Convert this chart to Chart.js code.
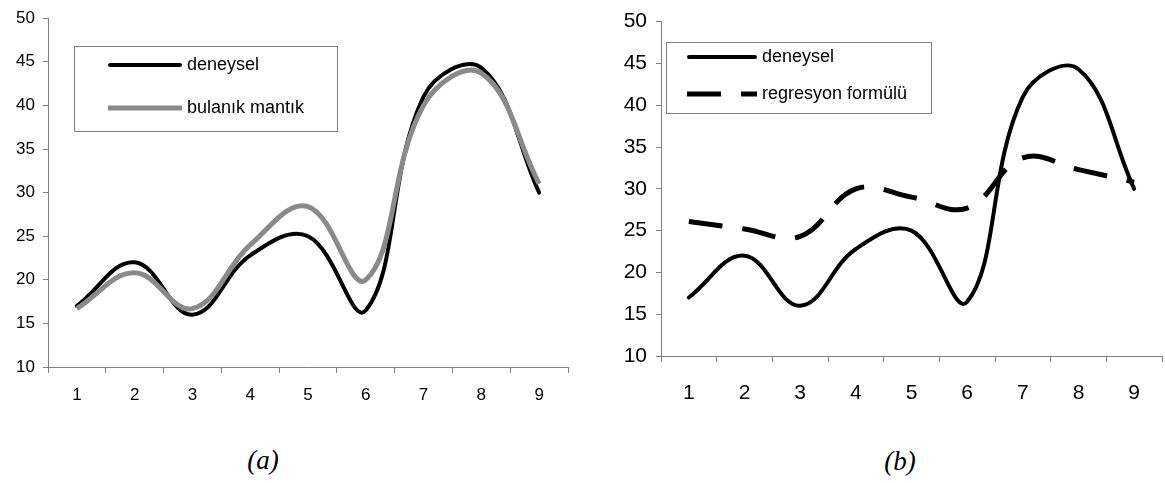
<!DOCTYPE html>
<html lang="tr">
<head>
<meta charset="UTF-8">
<title>deneysel / bulanık mantık / regresyon formülü</title>
<style>
    body { margin: 0; background: #fff; }
    #wrap { position: relative; width: 1165px; height: 483px; }
    .box { position: absolute; top: 0; height: 410px; }
    .cap { position: absolute; transform: translate(-50%, -50%);
           font: italic 27px "Liberation Serif", "Times New Roman", serif; color: #000; }
</style>
</head>
<body>
<div id="wrap">
    <div class="box" style="left:0; width:585px;"><canvas id="chartA"></canvas></div>
    <div class="box" style="left:585px; width:580px;"><canvas id="chartB"></canvas></div>
    <div class="cap" style="left:263px; top:460px;">(a)</div>
    <div class="cap" style="left:900px; top:461px;">(b)</div>
</div>

<script src="https://cdn.jsdelivr.net/npm/chart.js"></script>
<script>
    // values
    let categories = ['1', '2', '3', '4', '5', '6', '7', '8', '9'];
    let yMin = 10, yMax = 50, yStep = 5;

    let deneysel  = [17.0, 22.0, 16.0, 22.8, 25.0, 16.5, 41.0, 44.3, 30.0];
    let bulanik   = [16.7, 20.8, 16.7, 24.0, 28.4, 20.0, 40.0, 43.7, 31.0];
    let regresyon = [26.1, 25.2, 24.3, 30.0, 29.0, 27.7, 33.7, 32.3, 30.8];

    const axisColor = '#808080';
    const fontFam = '"Liberation Sans", Arial, sans-serif';

    // legend in a framed box inside the plot, like the original
    const boxLegend = {
        id: 'boxLegend',
        afterDraw(chart, args, o) {
            const ctx = chart.ctx;
            ctx.save();
            ctx.fillStyle = '#fff';
            ctx.fillRect(o.x, o.y, o.w, o.h);
            ctx.strokeStyle = axisColor;
            ctx.lineWidth = 1;
            ctx.strokeRect(o.x + 0.5, o.y + 0.5, o.w, o.h);
            chart.data.datasets.forEach((ds, i) => {
                const y = o.rows[i];
                const cap = ds.borderCapStyle || 'butt';
                const inset = cap === 'round' ? ds.borderWidth / 2 : 0;
                ctx.beginPath();
                ctx.setLineDash(ds.borderDash || []);
                ctx.lineCap = cap;
                ctx.strokeStyle = ds.borderColor;
                ctx.lineWidth = ds.borderWidth;
                ctx.moveTo(o.lineX0 + inset, y);
                ctx.lineTo(o.lineX1 - inset, y);
                ctx.stroke();
                ctx.setLineDash([]);
                ctx.fillStyle = '#000';
                ctx.font = o.font;
                ctx.textBaseline = 'middle';
                ctx.fillText(ds.label, o.textX, y);
            });
            ctx.restore();
        }
    };

    function makeScales(yWidth, xHeight, tickSize, yPad, xPad) {
        return {
            x: {
                type: 'category',
                offset: true,
                afterFit: s => { s.height = xHeight; },
                grid: { offset: true, drawOnChartArea: false, tickLength: 6, color: axisColor },
                border: { color: axisColor },
                ticks: { color: '#000', padding: xPad, maxRotation: 0, font: { family: fontFam, size: tickSize } }
            },
            y: {
                min: yMin,
                max: yMax,
                afterFit: s => { s.width = yWidth; },
                grid: { drawOnChartArea: false, tickLength: 5, color: axisColor },
                border: { color: axisColor },
                ticks: { stepSize: yStep, color: '#000', padding: yPad, font: { family: fontFam, size: tickSize } }
            }
        };
    }

    new Chart(document.getElementById('chartA'), {
        type: 'line',
        data: {
            labels: categories,
            datasets: [
                {
                    label: 'deneysel',
                    data: deneysel,
                    borderColor: '#000',
                    borderWidth: 4,
                    borderCapStyle: 'round',
                    order: 1
                },
                {
                    label: 'bulanık mantık',
                    data: bulanik,
                    borderColor: '#8a8a8a',
                    borderWidth: 5,
                    order: 0
                }
            ]
        },
        options: {
            responsive: true,
            maintainAspectRatio: false,
            animation: false,
            layout: { padding: { top: 18, right: 17, bottom: 10, left: 0 } },
            elements: { point: { radius: 0 }, line: { tension: 0.4 } },
            plugins: {
                legend: { display: false },
                tooltip: { enabled: false },
                boxLegend: {
                    x: 74, y: 46, w: 263, h: 85,
                    rows: [65, 108],
                    lineX0: 108, lineX1: 182, textX: 187,
                    font: '18px ' + fontFam
                }
            },
            scales: makeScales(48, 33, 17, 8, 12)
        },
        plugins: [boxLegend]
    });

    new Chart(document.getElementById('chartB'), {
        type: 'line',
        data: {
            labels: categories,
            datasets: [
                {
                    label: 'deneysel',
                    data: deneysel,
                    borderColor: '#000',
                    borderWidth: 4,
                    borderCapStyle: 'round',
                    order: 0
                },
                {
                    label: 'regresyon formülü',
                    data: regresyon,
                    borderColor: '#000',
                    borderWidth: 5,
                    borderDash: [34, 20],
                    order: 1
                }
            ]
        },
        options: {
            responsive: true,
            maintainAspectRatio: false,
            animation: false,
            layout: { padding: { top: 14, right: 3, bottom: 10, left: 0 } },
            elements: { point: { radius: 0 }, line: { tension: 0.4 } },
            plugins: {
                legend: { display: false },
                tooltip: { enabled: false },
                boxLegend: {
                    x: 81, y: 42, w: 265, h: 71,
                    rows: [57, 94],
                    lineX0: 102, lineX1: 172, textX: 177,
                    font: '18px ' + fontFam
                }
            },
            scales: makeScales(76, 44, 21, 9, 19)
        },
        plugins: [boxLegend]
    });
</script>
</body>
</html>
